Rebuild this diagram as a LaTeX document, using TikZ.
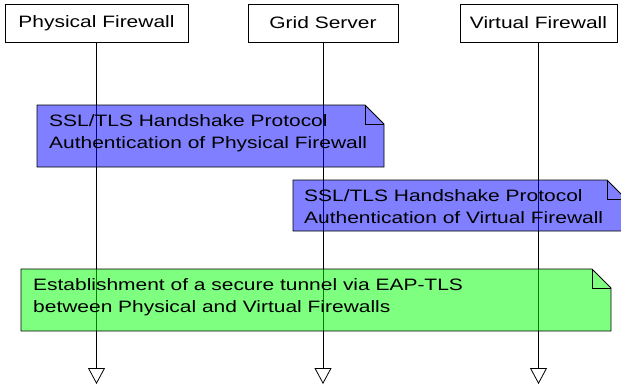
\documentclass[tikz,border=0pt]{standalone}
\usepackage{fontspec}
\setmainfont[FakeStretch=1.27]{Liberation Sans}
\usetikzlibrary{arrows.meta,calc}
\tikzset{
  every node/.style={font=\fontsize{16.5bp}{21.5bp}\selectfont},
  head/.style={draw=black, line width=0.8bp, fill=white, minimum height=38bp, inner sep=0pt},
  lifeline/.style={draw=black, line width=0.8bp, -{Triangle[open, width=17bp, length=16bp, line width=0.8bp]}},
  notebody/.style={draw=black, line width=0.8bp, fill opacity=0.5},
  notetext/.style={align=left, anchor=base west, inner sep=0pt, text opacity=1},
}
\newcommand{\foldnote}[6]{% x1,y1,x2,y2,fold,color
  \path[notebody, fill=#6] (#1,#2) -- (#3-#5,#2) -- (#3,#2+#5) -- (#3,#4) -- (#1,#4) -- cycle;
  \draw[line width=0.8bp] (#3-#5,#2) -- (#3-#5,#2+#5) -- (#3,#2+#5);
}
\begin{document}
\begin{tikzpicture}[x=1bp, y=-1bp]
\useasboundingbox (0,0) rectangle (621,387);
% headers
\node[head, minimum width=183bp] (pf) at (96.5,23) {Physical Firewall};
\node[head, minimum width=150bp] (gs) at (323,23) {Grid Server};
\node[head, minimum width=157bp] (vf) at (538.5,23) {Virtual Firewall};
% lifeline ends
\coordinate (pfend) at (96.5,384);
\coordinate (gsend) at (323,384);
\coordinate (vfend) at (538.5,384);
\draw[lifeline] (pf.south) -- (pfend);
\draw[lifeline] (gs.south) -- (gsend);
\draw[lifeline] (vf.south) -- (vfend);
% notes
\foldnote{37}{105}{384}{167}{19}{blue}
\node[notetext] (n1) at (49,148) {SSL/TLS Handshake Protocol\\Authentication of Physical Firewall};
\foldnote{293}{180}{626}{231}{19}{blue}
\node[notetext] (n2) at (304,223) {SSL/TLS Handshake Protocol\\Authentication of Virtual Firewall};
\foldnote{21}{269}{611}{331}{19}{green}
\node[notetext] (n3) at (33,312) {Establishment of a secure tunnel via EAP-TLS\\between Physical and Virtual Firewalls};
\end{tikzpicture}
\end{document}
